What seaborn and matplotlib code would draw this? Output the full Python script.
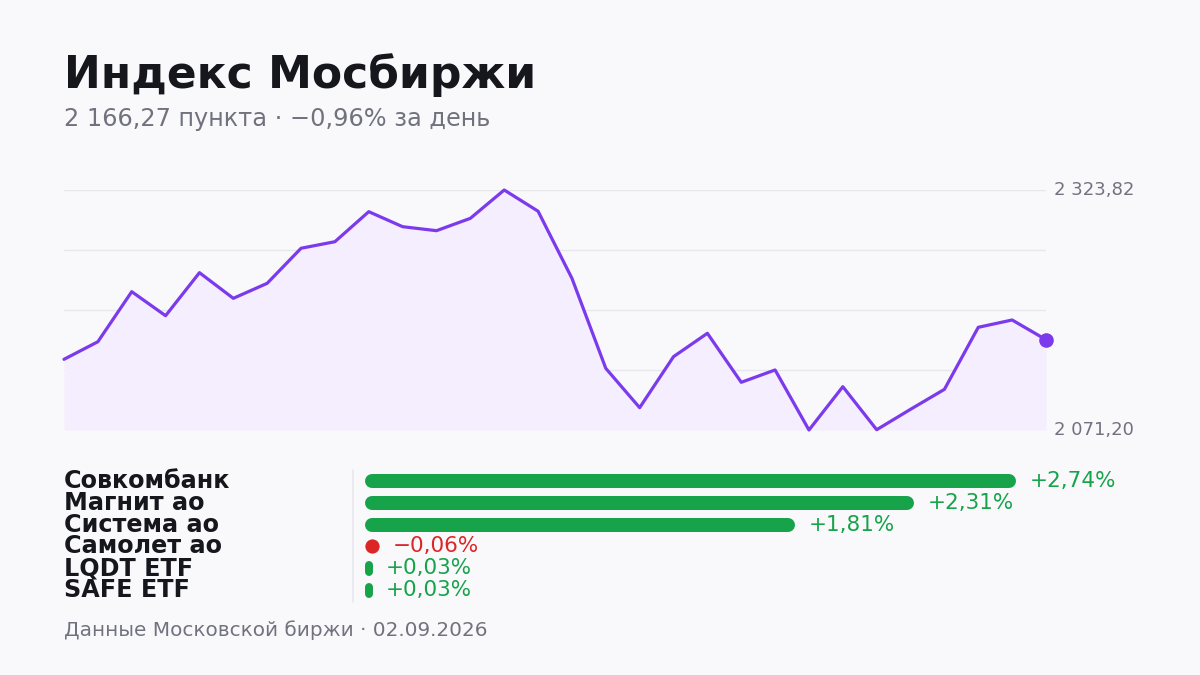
import numpy as np
import pandas as pd
import seaborn as sns
import matplotlib.pyplot as plt

# index values over the period
index_values = [
    2145.6, 2164.1, 2216.8, 2191.5, 2236.8, 2209.8, 2225.6, 2262.5, 2269.4, 2301.0,
    2285.2, 2281.0, 2294.0, 2323.82, 2301.5, 2230.9, 2136.1, 2094.7, 2148.4, 2173.0,
    2121.4, 2134.4, 2071.20, 2116.8, 2071.5, 2093.0, 2114.0, 2179.3, 2187.0, 2166.27,
]

# top movers
tickers = ["Совкомбанк", "Магнит ао", "Система ао", "Самолет ао", "LQDT ETF", "SAFE ETF"]
changes = [2.74, 2.31, 1.81, -0.06, 0.03, 0.03]

title = "Индекс Мосбиржи"
subtitle = "2 166,27 пункта · −0,96% за день"
footer = "Данные Московской биржи · 02.09.2026"

BG = "#f9f9fc"
INK = "#16161d"
GRAY = "#72727f"
VIOLET = "#7c3aed"
FILL = "#f4eefe"
GRID = "#e7e7ee"
GREEN = "#16a34a"
RED = "#dc2626"

W, H = 1200, 675


def fmt_num(v):
    return f"{v:,.2f}".replace(",", " ").replace(".", ",")


def fmt_pct(v):
    return f"{v:+.2f}%".replace(".", ",").replace("-", "\u2212")


def main():
    sns.set_theme(style="white")
    plt.rcParams["font.family"] = ["DejaVu Sans"]

    fig = plt.figure(figsize=(12, 6.75), dpi=100, facecolor=BG)

    fig.text(64 / W, 1 - 88 / H, title, fontsize=31.7, fontweight="bold", color=INK, va="baseline")
    fig.text(64 / W, 1 - 126 / H, subtitle, fontsize=17.3, color=GRAY, va="baseline")
    fig.text(64 / W, 1 - 636 / H, footer, fontsize=14.4, color=GRAY, va="baseline")

    # ---- line chart ----
    df = pd.DataFrame({"t": np.arange(len(index_values)), "v": index_values})
    vmin, vmax = min(index_values), max(index_values)

    ax = fig.add_axes([64 / W, 1 - 430 / H, (1046 - 64) / W, 240 / H])
    ax.set_facecolor(BG)
    ax.fill_between(df["t"], df["v"], vmin, color=FILL, lw=0)
    sns.lineplot(data=df, x="t", y="v", ax=ax, color=VIOLET, lw=2.3, clip_on=False)
    ax.plot(df["t"].iloc[-1], df["v"].iloc[-1], "o", color=VIOLET, ms=9.5, clip_on=False)
    ax.set_xlim(df["t"].min(), df["t"].max())
    ax.set_ylim(vmin, vmax)
    ax.set_yticks(np.linspace(vmin, vmax, 5))
    ax.yaxis.grid(True, color=GRID, lw=1)
    ax.set_axisbelow(True)
    ax.tick_params(left=False, bottom=False, labelleft=False, labelbottom=False)
    ax.set_xlabel("")
    ax.set_ylabel("")
    sns.despine(ax=ax, left=True, bottom=True)
    for v in (vmax, vmin):
        ax.annotate(fmt_num(v), (df["t"].max(), v), xytext=(6, 0), textcoords="offset points",
                    fontsize=13, color=GRAY, va="center", ha="left", annotation_clip=False)

    # ---- movers ----
    bx = fig.add_axes([365 / W, 1 - 601 / H, (1016 - 365) / W, 131 / H])
    bx.set_facecolor("none")
    xmax = max(abs(c) for c in changes)
    bx.set_xlim(0, xmax)
    bx.set_ylim(len(tickers) - 0.5, -0.5)
    bx.axis("off")

    ppu = (1016 - 365) / xmax       # px per percent
    ppr = 131 / len(tickers)        # px per row
    bar_h = 14
    pt = 72 / 100
    for i, (name, c) in enumerate(zip(tickers, changes)):
        col = GREEN if c >= 0 else RED
        w = abs(c)
        wpx = w * ppu
        if wpx > bar_h + 1:
            r = (bar_h / 2) / ppu
            bx.hlines(i, r, w - r, color=col, lw=bar_h * pt, capstyle="round")
        elif wpx > bar_h - 1:
            # as wide as tall: a round dot
            bx.plot(w / 2, i, "o", color=col, ms=wpx * pt, mew=0)
        else:
            dy = ((bar_h - wpx) / 2) / ppr
            bx.vlines(w / 2, i - dy, i + dy, color=col, lw=wpx * pt + 0.6, capstyle="round")
        bx.annotate(fmt_pct(c), (w, i), xytext=(10, 0), textcoords="offset points",
                    fontsize=15.5, color=col, va="center", ha="left", annotation_clip=False)
        fig.text(64 / W, 1 - (470 + ppr * (i + 0.5)) / H, name, fontsize=17.2, fontweight="bold",
                 color=INK, va="center", ha="left")

    fig.add_artist(plt.Line2D([353 / W, 353 / W], [1 - 470 / H, 1 - 602 / H], color=GRID, lw=1.2))

    plt.savefig("out.png", dpi=100, facecolor=BG)
    plt.close()


if __name__ == "__main__":
    main()
